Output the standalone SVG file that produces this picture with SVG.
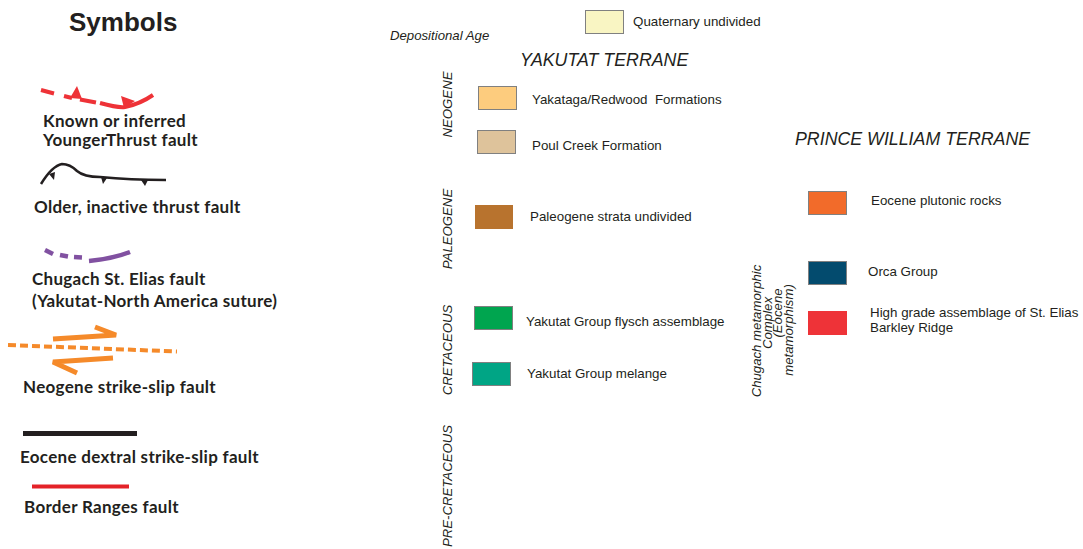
<svg xmlns="http://www.w3.org/2000/svg" width="1083" height="549" viewBox="0 0 1083 549">
<style>
.sym{font-family:Lato,"Open Sans",sans-serif;font-weight:bold;font-size:17px;letter-spacing:0.3px;fill:#231f20}
.lbl{font-family:"Liberation Sans",Arial,sans-serif;font-size:13.35px;fill:#231f20}
.age{font-family:"Liberation Sans",Arial,sans-serif;font-style:italic;font-size:13.2px;fill:#231f20}
.ter{font-family:"Liberation Sans",Arial,sans-serif;font-style:italic;font-size:17.8px;fill:#231f20}
.box{stroke:#808080;stroke-width:1}
</style>
<rect width="1083" height="549" fill="#ffffff"/>
<text x="69" y="31" font-family="'Liberation Sans',Arial,sans-serif" font-weight="bold" font-size="26" fill="#231f20">Symbols</text>

<g id="sym-young-thrust">
<g fill="none" stroke="#ee3237" stroke-width="4">
<path d="M41,90 L54,93.5"/>
<path d="M64,96 L72,98"/>
<path d="M80,99.5 L96,102.5"/>
<path d="M100,103 Q118,108 125,107 Q140,104 153,95"/>
</g>
<polygon points="70,98 77,86 82,99" fill="#ee3237"/>
<polygon points="121,96 135,101 124,108" fill="#ee3237"/>
<text class="sym" x="43" y="127">Known or inferred</text>
<text class="sym" x="43" y="146">YoungerThrust fault</text>
</g>

<g id="sym-old-thrust">
<path d="M41,184 Q52,166 62,164 Q70,164 77,171 Q84,177 100,177 Q130,180 166,180" fill="none" stroke="#231f20" stroke-width="2.5"/>
<polygon points="49,174 54,180 55,172" fill="#231f20"/>
<polygon points="101,177 107,178 103,184" fill="#231f20"/>
<polygon points="141,180 148,180 145,186" fill="#231f20"/>
<text class="sym" x="34" y="213">Older, inactive thrust fault</text>
</g>

<g id="sym-chugach">
<g fill="none" stroke="#8151a1" stroke-width="4.5">
<path d="M45,250 L53,254"/>
<path d="M60,255 L68,256.5"/>
<path d="M74,257 L82,257.5"/>
<path d="M89,261 Q112,259 130,252"/>
</g>
<text class="sym" x="32" y="285">Chugach St. Elias fault</text>
<text class="sym" x="32" y="307">(Yakutat-North America suture)</text>
</g>

<g id="sym-neogene">
<path d="M8,345 L177,351.5" fill="none" stroke="#f58a2a" stroke-width="4" stroke-dasharray="8,4"/>
<g fill="none" stroke="#f58a2a" stroke-width="5">
<path d="M53,339 L116,335 L95,327"/>
<path d="M113,358 L53,362 L77,373"/>
</g>
<text class="sym" x="23" y="393">Neogene strike-slip fault</text>
</g>

<g id="sym-eocene">
<line x1="23" y1="433.5" x2="137" y2="433.5" stroke="#231f20" stroke-width="5"/>
<text class="sym" x="20" y="463">Eocene dextral strike-slip fault</text>
</g>

<g id="sym-border">
<line x1="32" y1="486.5" x2="129" y2="486.5" stroke="#e42228" stroke-width="4"/>
<text class="sym" x="24" y="513">Border Ranges fault</text>
</g>

<text class="age" x="390" y="40">Depositional Age</text>
<text class="ter" x="520" y="66">YAKUTAT TERRANE</text>
<text class="ter" x="795" y="145">PRINCE WILLIAM TERRANE</text>

<text class="age" text-anchor="middle" transform="translate(452,104.5) rotate(-90)">NEOGENE</text>
<text class="age" text-anchor="middle" transform="translate(452,229) rotate(-90)">PALEOGENE</text>
<text class="age" text-anchor="middle" transform="translate(452,350) rotate(-90)">CRETACEOUS</text>
<text class="age" text-anchor="middle" transform="translate(452,486) rotate(-90)">PRE-CRETACEOUS</text>

<g class="age" text-anchor="middle">
<text transform="translate(761,331) rotate(-90)">Chugach metamorphic</text>
<text transform="translate(772,323) rotate(-90)">Complex</text>
<text transform="translate(782,313) rotate(-90)">(Eocene</text>
<text transform="translate(793,330) rotate(-90)">metamorphism)</text>
</g>

<g id="unit-quaternary">
<rect class="box" x="585.5" y="10.5" width="38" height="23" fill="#f9f5c3"/>
<text class="lbl" x="633" y="26">Quaternary undivided</text>
</g>
<g id="unit-yakataga">
<rect class="box" x="478.5" y="86.5" width="38" height="23" fill="#fdcc7e"/>
<text class="lbl" x="532" y="104">Yakataga/Redwood&#160; Formations</text>
</g>
<g id="unit-poulcreek">
<rect class="box" x="477.5" y="130.5" width="38" height="23" fill="#dec39b"/>
<text class="lbl" x="532" y="150">Poul Creek Formation</text>
</g>
<g id="unit-paleogene">
<rect x="475" y="205" width="38" height="24" fill="#b8732e"/>
<text class="lbl" x="530" y="221">Paleogene strata undivided</text>
</g>
<g id="unit-flysch">
<rect class="box" x="474.5" y="306.5" width="38" height="23" fill="#00a54f"/>
<text class="lbl" x="526" y="326">Yakutat Group flysch assemblage</text>
</g>
<g id="unit-melange">
<rect class="box" x="472.5" y="362.5" width="38" height="23" fill="#00a585"/>
<text class="lbl" x="527" y="378">Yakutat Group melange</text>
</g>
<g id="unit-plutonic">
<rect class="box" x="808.5" y="191.5" width="38" height="23" fill="#f26b2a"/>
<text class="lbl" x="871" y="205">Eocene plutonic rocks</text>
</g>
<g id="unit-orca">
<rect class="box" x="808.5" y="261.5" width="38" height="23" fill="#034b6e"/>
<text class="lbl" x="868" y="276">Orca Group</text>
</g>
<g id="unit-highgrade">
<rect x="808" y="311" width="39" height="24" fill="#ee3338"/>
<text class="lbl" x="870" y="317">High grade assemblage of St. Elias</text>
<text class="lbl" x="870" y="332">Barkley Ridge</text>
</g>
</svg>
